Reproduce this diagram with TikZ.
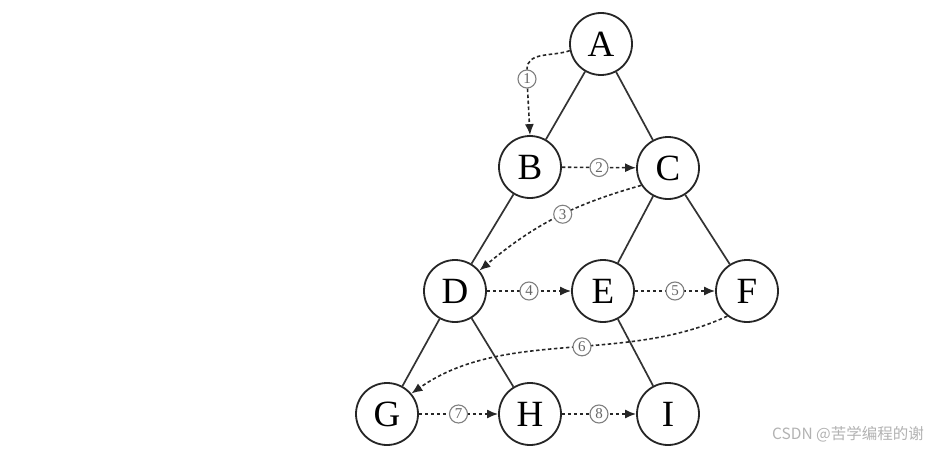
\documentclass[tikz,border=0pt]{standalone}
\usepackage{fontspec}
\setmainfont{Liberation Serif}
\newfontfamily\cjkwm{Noto Sans CJK SC}
\usetikzlibrary{arrows.meta}
\begin{document}
\begin{tikzpicture}[x=1pt,y=1pt,
  vert/.style={circle,draw=black!85,line width=1.8pt,minimum size=62pt,inner sep=0pt,font=\fontsize{37}{37}\selectfont},
  tree/.style={line width=1.7pt,draw=black!80},
  trav0/.style={line width=1.6pt,dash pattern=on 3.5pt off 2.5pt,draw=black!85},
  trav/.style={trav0,-{Latex[length=11pt,width=9pt]}},
  num/.style={circle,solid,draw=black!50,line width=1.1pt,fill=white,inner sep=0pt,minimum size=18pt,text=black!60,font=\fontsize{15}{15}\selectfont}]
\useasboundingbox (0,0) rectangle (946,451);
\node[vert] (A) at (601,407) {A};
\node[vert] (B) at (530,284) {B};
\node[vert] (C) at (668,283) {C};
\node[vert] (D) at (455,160) {D};
\node[vert] (E) at (603,160) {E};
\node[vert] (F) at (747,160) {F};
\node[vert] (G) at (387,37) {G};
\node[vert] (H) at (530,37) {H};
\node[vert] (I) at (668,37) {I};
\draw[tree] (A) -- (B);
\draw[tree] (A) -- (C);
\draw[tree] (B) -- (D);
\draw[tree] (C) -- (E);
\draw[tree] (C) -- (F);
\draw[tree] (D) -- (G);
\draw[tree] (D) -- (H);
\draw[tree] (E) -- (I);
% traversal
\node[num] (n1) at (527,372) {1};
\draw[trav0] (A.192) to[out=200,in=90] (n1);
\draw[trav] (n1) -- (B.north);
\draw[trav] (B) -- node[num]{2} (C);
\draw[trav] (C.213) to[bend right=12] node[num,pos=0.45]{3} (D.40);
\draw[trav] (D) -- node[num]{4} (E);
\draw[trav] (E) -- node[num]{5} (F);
\draw[trav] (F.232) to[out=205,in=35,looseness=0.9] node[num,pos=0.45]{6} (G.40);
\draw[trav] (G) -- node[num]{7} (H);
\draw[trav] (H) -- node[num]{8} (I);
\node[text=black!30,font=\cjkwm\fontsize{15.5}{15.5}\selectfont] (wm) at (848,17) {CSDN @苦学编程的谢};
\end{tikzpicture}
\end{document}
